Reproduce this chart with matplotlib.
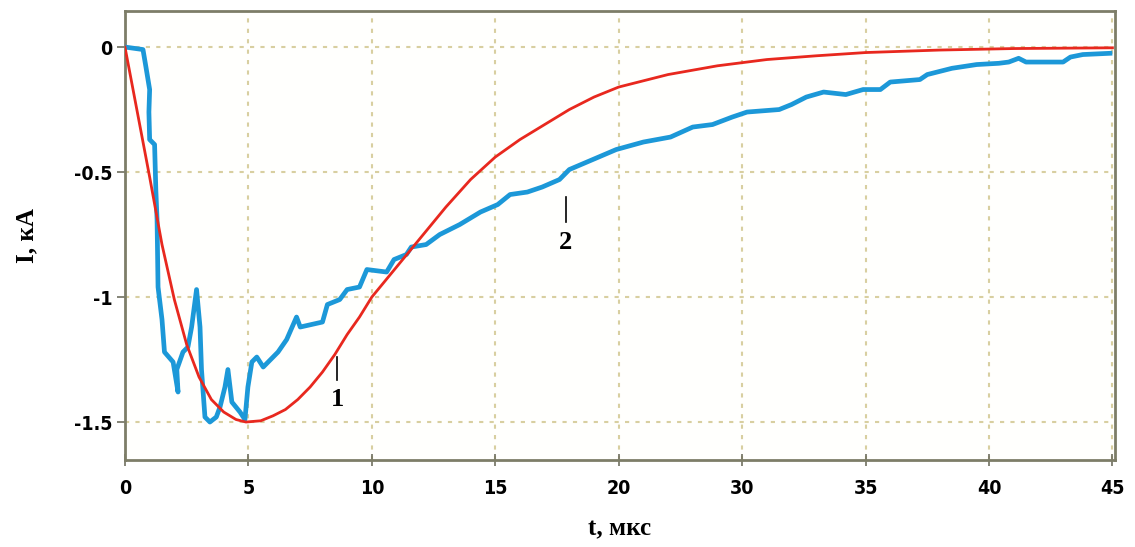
import matplotlib
matplotlib.use("Agg")
import matplotlib.pyplot as plt

# ── data (x in tick-position units; the original axis labels skip "25") ──
tick_pos = [0, 5, 10, 15, 20, 25, 30, 35, 40]
tick_labels = ["0", "5", "10", "15", "20", "30", "35", "40", "45"]
y_ticks = [0, -0.5, -1, -1.5]
y_tick_labels = ["0", "-0.5", "-1", "-1.5"]

# curve 1: model current (red)
t_model = [0, 0.5, 1.0, 1.5, 2.0, 2.5, 3.0, 3.5, 4.0, 4.5, 4.9, 5.5, 6.0, 6.5,
           7.0, 7.5, 8.0, 8.5, 9.0, 9.5, 10.0, 10.5, 11.0, 12.0, 13.0, 14.0,
           15.0, 16.0, 17.0, 18.0, 19.0, 20.0, 22.0, 24.0, 26.0, 28.0, 30.0,
           33.0, 36.0, 40.0]
i_model = [0, -0.26, -0.52, -0.79, -1.01, -1.19, -1.32, -1.41, -1.46, -1.49,
           -1.50, -1.495, -1.475, -1.45, -1.41, -1.36, -1.30, -1.23, -1.15,
           -1.08, -1.00, -0.94, -0.88, -0.76, -0.64, -0.53, -0.44, -0.37,
           -0.31, -0.25, -0.20, -0.16, -0.11, -0.075, -0.05, -0.035, -0.022,
           -0.012, -0.006, -0.003]

# curve 2: measured current (blue)
t_meas = [0, 0.73, 0.85, 1.0, 0.97, 1.0, 1.2, 1.25, 1.3, 1.34, 1.5, 1.6, 1.95,
          2.15, 2.1, 2.35, 2.55, 2.7, 2.9, 3.04, 3.1, 3.24, 3.44, 3.7, 3.85,
          4.05, 4.17, 4.33, 4.66, 4.86, 4.98, 5.14, 5.34, 5.6, 6.0, 6.2, 6.55,
          6.95, 7.1, 8.0, 8.2, 8.7, 9.0, 9.5, 9.8, 10.6, 10.9, 11.4, 11.6,
          12.2, 12.75, 13.56, 14.4, 15.1, 15.6, 16.3, 16.9, 17.6, 18.0, 18.95,
          19.9, 21.0, 22.1, 23.0, 23.8, 24.6, 25.2, 26.5, 27.0, 27.6, 28.3,
          29.2, 29.9, 30.6, 31.0, 32.2, 32.5, 33.5, 34.5, 35.4, 35.8, 36.2,
          36.5, 38.0, 38.3, 38.8, 39.9]
i_meas = [0, -0.01, -0.08, -0.17, -0.26, -0.37, -0.39, -0.57, -0.69, -0.96,
          -1.09, -1.22, -1.26, -1.38, -1.29, -1.22, -1.20, -1.12, -0.97, -1.12,
          -1.29, -1.48, -1.50, -1.48, -1.44, -1.36, -1.29, -1.42, -1.46, -1.49,
          -1.36, -1.26, -1.24, -1.28, -1.24, -1.22, -1.17, -1.08, -1.12, -1.10,
          -1.03, -1.01, -0.97, -0.96, -0.89, -0.90, -0.85, -0.83, -0.80, -0.79,
          -0.75, -0.71, -0.66, -0.63, -0.59, -0.58, -0.56, -0.53, -0.49, -0.45,
          -0.41, -0.38, -0.36, -0.32, -0.31, -0.28, -0.26, -0.25, -0.23, -0.20,
          -0.18, -0.19, -0.17, -0.17, -0.14, -0.13, -0.11, -0.085, -0.07,
          -0.065, -0.06, -0.045, -0.06, -0.06, -0.04, -0.03, -0.025]

# curve markers: (label, x, y of text, y top of stroke, y bottom of stroke)
marks = [("1", 8.6, -1.41, -1.24, -1.33),
         ("2", 17.85, -0.78, -0.60, -0.70)]

# ── figure ──
fig = plt.figure(figsize=(11.35, 5.47), dpi=100)
ax = fig.add_axes([0.1101, 0.159, 0.8722, 0.8208])
ax.set_facecolor("#fffffd")

ax.plot(t_meas, i_meas, color="#1c98d8", linewidth=3.4, zorder=3)
ax.plot(t_model, i_model, color="#e8281e", linewidth=2.0, zorder=4)

for label, x, yt, y0, y1 in marks:
    ax.plot([x, x], [y0, y1], color="black", linewidth=1.2, zorder=5)
    ax.text(x, yt, label, ha="center", va="center", fontsize=19,
            fontweight="bold", family="Liberation Serif", zorder=5)

ax.set_xlim(0, 40.1)
ax.set_ylim(-1.652, 0.144)

tick_font = dict(family="DejaVu Sans", weight="bold", stretch="condensed", size=14)
ax.set_xticks(tick_pos)
ax.set_xticklabels(tick_labels, **tick_font)
ax.set_yticks(y_ticks)
ax.set_yticklabels(y_tick_labels, **tick_font)
ax.tick_params(axis="x", direction="inout", length=9, width=1.2, color="#6f6f60", pad=9)
ax.tick_params(axis="y", direction="out", length=6, width=1.2, color="#6f6f60", pad=3)

ax.grid(True, linestyle=(0, (2, 3)), color="#d8cfa0", linewidth=1.5)
for s in ax.spines.values():
    s.set_color("#7d7d68")
    s.set_linewidth(2)

ax.set_xlabel("t, мкс", family="Liberation Serif", fontweight="bold", fontsize=18, labelpad=14)
ax.set_ylabel("I, кА", family="Liberation Serif", fontweight="bold", fontsize=18, labelpad=26)

fig.savefig("out.png", dpi=100)
